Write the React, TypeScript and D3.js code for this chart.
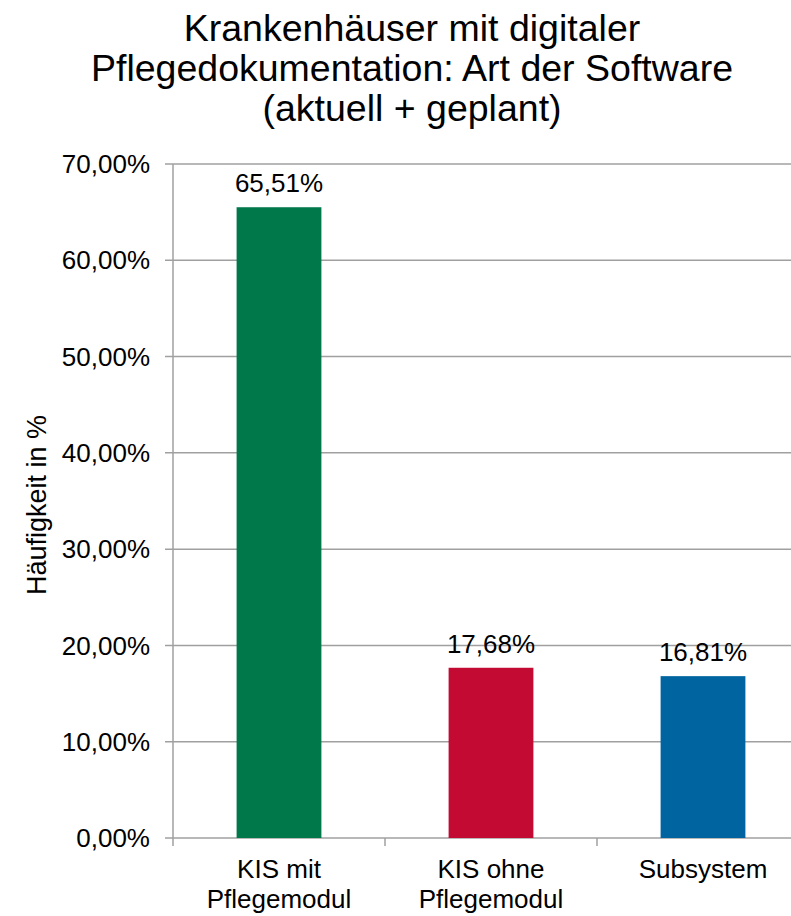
import React from "react";
import * as d3 from "d3";

const titleLines = ["Krankenhäuser mit digitaler", "Pflegedokumentation: Art der Software", "(aktuell + geplant)"];
const categories = ["KIS mit\nPflegemodul", "KIS ohne\nPflegemodul", "Subsystem"];
const values = [65.51, 17.68, 16.81];
const colors = ["#00784A", "#C30A32", "#0064A0"];
const yTicks = [0, 10, 20, 30, 40, 50, 60, 70];
const yAxisTitle = "Häufigkeit in %";

const W = 791;
const H = 916;
const FONT = "'Liberation Sans', Arial, sans-serif";

export default function App() {
  const x = d3.scaleBand<string>().domain(categories).range([173, 809]).paddingInner(0.6).paddingOuter(0.3);
  const y = d3.scaleLinear().domain([0, 70]).range([838, 164]);
  const fmt = (v: number) => v.toFixed(2).replace(".", ",") + "%";
  const step = x.step();
  const bandStarts = categories.map((_, i) => 173 + i * step);

  return (
    <div style={{ position: "absolute", left: 0, top: 0 }}>
      <svg width={W} height={H} style={{ display: "block", fontFamily: FONT }}>
        <rect width={W} height={H} fill="#fff" />
        {titleLines.map((t, i) => (
          <text key={i} x={412} y={41 + i * 40} textAnchor="middle" fontSize={37.5} fill="#000">
            {t}
          </text>
        ))}
        {yTicks.map((t) => (
          <g key={t}>
            <line x1={165} x2={W} y1={y(t)} y2={y(t)} stroke="#a0a0a0" strokeWidth={1.5} />
            <text x={150} y={y(t)} dy="0.35em" textAnchor="end" fontSize={26} fill="#000">
              {fmt(t)}
            </text>
          </g>
        ))}
        <line x1={173} x2={173} y1={y(70)} y2={y(0)} stroke="#a0a0a0" strokeWidth={1.5} />
        {bandStarts.map((bx, i) => (
          <line key={i} x1={bx} x2={bx} y1={y(0)} y2={y(0) + 8} stroke="#a0a0a0" strokeWidth={1.5} />
        ))}
        <text
          transform={`translate(46, ${(y(0) + y(70)) / 2 + 4}) rotate(-90)`}
          textAnchor="middle"
          fontSize={27}
          fill="#000"
        >
          {yAxisTitle}
        </text>
        {categories.map((c, i) => (
          <g key={c}>
            <rect x={x(c)} y={y(values[i])} width={x.bandwidth()} height={y(0) - y(values[i])} fill={colors[i]} />
            <text x={x(c)! + x.bandwidth() / 2} y={y(values[i]) - 15} textAnchor="middle" fontSize={26} fill="#000">
              {fmt(values[i])}
            </text>
            {c.split("\n").map((line, j) => (
              <text key={j} x={x(c)! + x.bandwidth() / 2} y={878 + j * 30} textAnchor="middle" fontSize={26} fill="#000">
                {line}
              </text>
            ))}
          </g>
        ))}
      </svg>
    </div>
  );
}
